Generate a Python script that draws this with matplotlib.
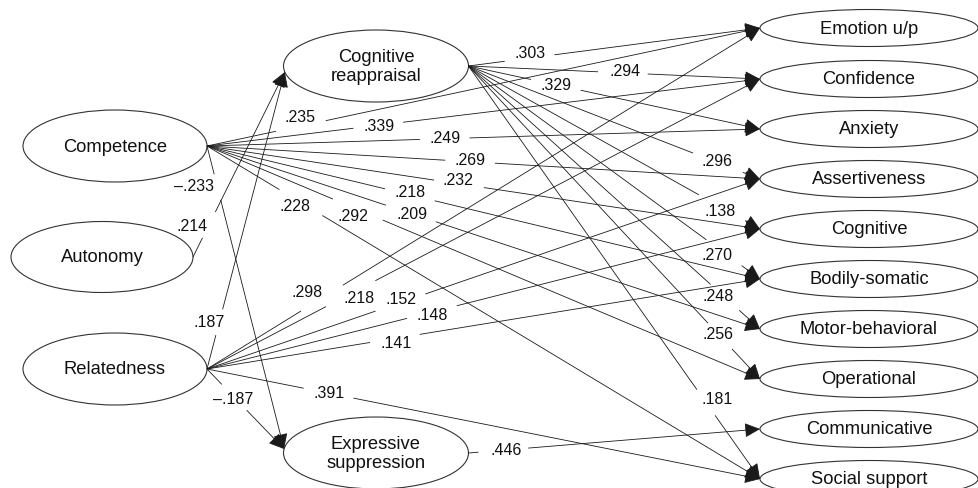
import numpy as np
import matplotlib
matplotlib.use('Agg')
import matplotlib.pyplot as plt
from matplotlib.patches import Ellipse, FancyArrowPatch

plt.rcParams['font.family'] = ['Liberation Sans', 'DejaVu Sans']

# node names
left_nodes = ['Competence', 'Autonomy', 'Relatedness']
mid_nodes = ['Cognitive\nreappraisal', 'Expressive\nsuppression']
right_nodes = ['Emotion u/p', 'Confidence', 'Anxiety', 'Assertiveness', 'Cognitive',
               'Bodily-somatic', 'Motor-behavioral', 'Operational', 'Communicative',
               'Social support']

CR = 'Cognitive\nreappraisal'
ES = 'Expressive\nsuppression'

# paths (source, target, standardized coefficient)
cr_targets = ['Emotion u/p', 'Confidence', 'Anxiety', 'Assertiveness', 'Cognitive',
              'Bodily-somatic', 'Motor-behavioral', 'Operational', 'Social support']
cr_coefs = ['.303', '.294', '.329', '.296', '.138', '.270', '.248', '.256', '.181']

comp_targets = ['Emotion u/p', 'Confidence', 'Anxiety', 'Assertiveness', 'Cognitive',
                'Bodily-somatic', 'Motor-behavioral', 'Operational', 'Social support', ES]
comp_coefs = ['.235', '.339', '.249', '.269', '.232', '.218', '.209', '.292', '.228',
              '\u2013.233']

auto_targets = [CR]
auto_coefs = ['.214']

rel_targets = [CR, ES, 'Emotion u/p', 'Confidence', 'Assertiveness', 'Cognitive',
               'Bodily-somatic', 'Social support']
rel_coefs = ['.187', '\u2013.187', '.298', '.218', '.152', '.148', '.141', '.391']

es_targets = ['Communicative']
es_coefs = ['.446']

# ---- layout (pixel space) ----
W, H = 979, 488
node_pos = {
    'Competence': (115, 146, 184, 72),
    'Autonomy': (102, 257, 182, 71),
    'Relatedness': (115, 369, 184, 72),
    CR: (376, 66, 185, 72),
    ES: (376, 453, 185, 72),
}
right_y = [28, 79, 129, 179, 229, 279, 329, 379, 429, 479]
for name, yy in zip(right_nodes, right_y):
    node_pos[name] = (869, yy, 218, 37)

# where the arrow hits the mid nodes (vertical offset from centre)
hit_dy = {CR: 6, ES: -4}

# label placement along each path: fraction t and text offset
label_place = {
    CR: [(0.21, 0, -5), (0.53, 2, -1), (0.30, 0, 1), (0.856, -1, -1), (0.87, -2, 4),
         (0.877, -7, 3), (0.88, -7, -1), (0.863, -2, -2), (0.815, 11, -3)],
    'Competence': [(0.17, -1, -8), (0.31, 1, 1), (0.43, 0, 0), (0.476, 0, -1),
                   (0.456, -1, -3), (0.367, 0, -2), (0.369, 1, 1), (0.273, -5, 7),
                   (0.17, -6, 4), (0.136, -23, -1)],
    'Autonomy': [(0.174, -17, 2)],
    'Relatedness': [(0.158, -10, 0), (0.355, -1, 2), (0.208, -15, -6), (0.26, 8, 5),
                    (0.35, 0, -3), (0.407, 0, 3), (0.34, 1, 5), (0.22, 0, 0)],
    ES: [(0.12, 3, 0)],
}

paths = [(CR, cr_targets, cr_coefs),
         ('Competence', comp_targets, comp_coefs),
         ('Autonomy', auto_targets, auto_coefs),
         ('Relatedness', rel_targets, rel_coefs),
         (ES, es_targets, es_coefs)]

line_col = '#1a1a1a'

fig = plt.figure(figsize=(W / 100, H / 100), dpi=100)
ax = fig.add_axes([0, 0, 1, 1])
ax.set_xlim(0, W)
ax.set_ylim(H, 0)
ax.axis('off')


def right_edge(name):
    cx, cy, w, h = node_pos[name]
    return np.array([cx + w / 2, cy])


def left_edge(name):
    cx, cy, w, h = node_pos[name]
    dy = hit_dy.get(name, 0)
    a, b = w / 2, h / 2
    return np.array([cx - a * np.sqrt(1 - (dy / b) ** 2), cy + dy])


# ellipses
for name, (cx, cy, w, h) in node_pos.items():
    ax.add_patch(Ellipse((cx, cy), w, h, facecolor='white', edgecolor='#333333',
                         lw=0.8, zorder=1))
    ax.text(cx, cy + 1, name, ha='center', va='center', fontsize=13.2,
            linespacing=1.12, color='#111111', zorder=4)

# paths with a gap for the coefficient
for src, tgts, coefs in paths:
    p0 = right_edge(src)
    for tgt, coef, (t, dx, dy) in zip(tgts, coefs, label_place[src]):
        p1 = left_edge(tgt)
        d = p1 - p0
        u = d / np.hypot(*d)
        c = p0 + t * d
        hg = min(25 / max(abs(u[0]), 1e-6), 13 / max(abs(u[1]), 1e-6))
        a_end = c - hg * u
        b_start = c + hg * u
        ax.plot([p0[0], a_end[0]], [p0[1], a_end[1]], color=line_col, lw=0.6,
                zorder=2, solid_capstyle='butt')
        ax.add_patch(FancyArrowPatch(tuple(b_start), tuple(p1),
                                     arrowstyle='-|>,head_length=0.95,head_width=0.45',
                                     mutation_scale=10, shrinkA=0, shrinkB=0,
                                     color=line_col, lw=0.6, zorder=3))
        ax.text(c[0] + dx, c[1] + dy, coef, ha='center', va='center',
                fontsize=11.5, color='#111111', zorder=4)

fig.savefig('out.png', dpi=100)
